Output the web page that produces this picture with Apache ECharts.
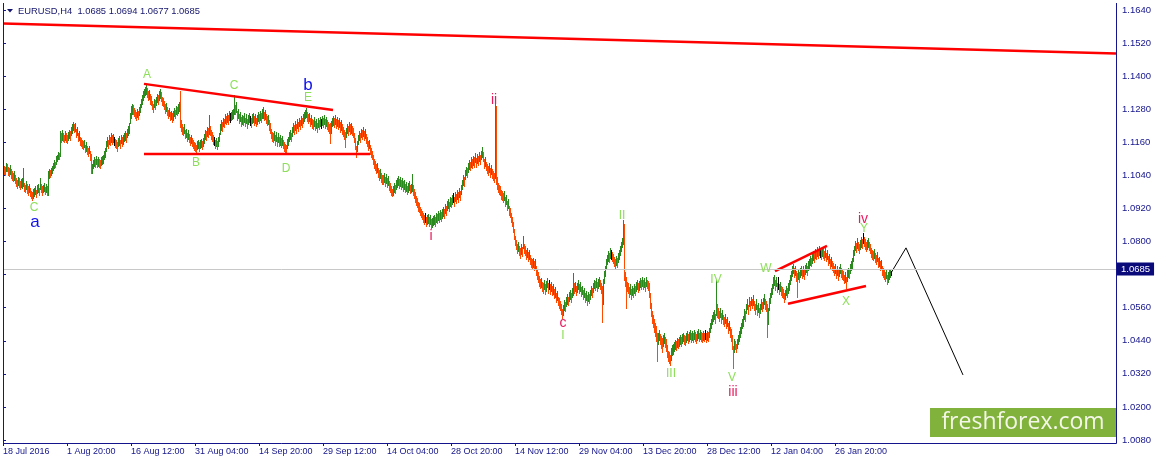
<!DOCTYPE html>
<html><head><meta charset="utf-8">
<script src="https://cdn.jsdelivr.net/npm/echarts@6/dist/echarts.min.js"></script>
<style>html,body{margin:0;padding:0;background:#fff}#c{width:1156px;height:464px}</style>
</head><body><div id="c"></div>
<script>
// ---- data (H4 bar highs / lows in pips above 1.0000) ----
const symbolTitle = 'EURUSD,H4';
const lastOHLC = [1.0685, 1.0694, 1.0677, 1.0685];
const xTickLabels = ['18 Jul 2016','1 Aug 20:00','16 Aug 12:00','31 Aug 04:00','14 Sep 20:00','29 Sep 12:00','14 Oct 04:00','28 Oct 20:00','14 Nov 12:00','29 Nov 04:00','13 Dec 20:00','28 Dec 12:00','12 Jan 04:00','26 Jan 20:00'];
const xTickBars = [0,64,128,192,256,320,384,448,512,576,640,704,768,832];
const totalSlots = 1113;

const barHighs = [
1082,1075,1070,1085,1080,1072,1066,1078,1062,1055,
1050,1055,1042,1030,1022,1035,1030,1020,1028,1030,
1065,1012,1005,1020,1008,1000,1008,995,985,978,
990,995,1000,988,1005,1010,995,1030,1008,1000,
1005,1012,998,1008,1002,1055,1062,1058,1068,1075,
1085,1095,1090,1110,1115,1125,1120,1200,1195,1205,
1195,1188,1200,1192,1185,1198,1205,1200,1215,1228,
1235,1225,1230,1210,1215,1195,1200,1180,1175,1168,
1165,1170,1152,1160,1145,1140,1148,1130,1118,1080,
1095,1105,1100,1110,1098,1105,1100,1095,1108,1112,
1115,1130,1140,1165,1178,1170,1188,1180,1192,1185,
1190,1180,1172,1168,1160,1175,1182,1170,1188,1178,
1185,1195,1202,1192,1210,1218,1230,1265,1290,1300,
1295,1285,1278,1270,1282,1275,1288,1300,1318,1330,
1345,1355,1362,1368,1358,1345,1350,1335,1328,1310,
1300,1318,1312,1325,1335,1330,1345,1355,1342,1325,
1320,1310,1298,1302,1288,1278,1285,1270,1275,1265,
1272,1285,1278,1292,1288,1298,1305,1345,1240,1225,
1215,1225,1205,1210,1195,1205,1190,1180,1188,1175,
1170,1162,1158,1150,1165,1170,1160,1168,1172,1165,
1175,1190,1205,1200,1215,1212,1258,1220,1205,1198,
1185,1180,1170,1175,1165,1178,1195,1225,1240,1235,
1250,1245,1262,1255,1268,1260,1275,1265,1270,1278,
1280,1332,1295,1305,1275,1280,1262,1270,1252,1260,
1255,1268,1250,1262,1245,1258,1265,1255,1248,1262,
1268,1255,1262,1250,1258,1270,1262,1275,1265,1280,
1288,1270,1278,1262,1255,1260,1240,1230,1210,1198,
1195,1200,1185,1198,1180,1192,1178,1185,1175,1182,
1170,1160,1155,1150,1172,1180,1198,1205,1195,1215,
1230,1222,1238,1228,1245,1235,1250,1242,1255,1248,
1262,1270,1278,1284,1270,1262,1268,1250,1258,1245,
1240,1252,1238,1245,1230,1248,1240,1252,1245,1255,
1248,1258,1245,1252,1240,1235,1228,1230,1238,1250,
1255,1248,1258,1245,1252,1240,1248,1232,1240,1225,
1215,1205,1198,1212,1228,1220,1235,1225,1230,1220,
1212,1195,1175,1148,1165,1188,1200,1195,1210,1205,
1215,1200,1208,1190,1180,1165,1170,1150,1140,1130,
1115,1100,1092,1080,1085,1068,1058,1062,1048,1042,
1040,1048,1035,1045,1030,1038,1020,1012,1000,992,
1002,1012,1005,1025,1030,1038,1028,1035,1022,1030,
1018,1025,1008,1015,1002,1012,1020,1005,1010,1045,
1005,992,978,965,958,945,940,925,918,910,
905,898,902,890,895,900,888,895,880,885,
892,898,888,905,900,910,902,915,908,918,
925,918,935,930,948,955,945,962,958,968,
975,962,980,972,988,978,995,985,1005,1022,
1040,1035,1060,1072,1068,1085,1095,1090,1105,1098,
1112,1105,1120,1102,1118,1110,1125,1115,1130,1143,
1125,1100,1108,1090,1082,1075,1085,1068,1078,1062,
1055,1048,1300,1290,1035,1012,1005,1000,988,982,
975,985,962,970,948,955,930,920,905,890,
870,845,820,805,790,800,785,775,790,780,
820,792,785,768,778,762,770,750,742,735,
740,728,735,712,700,688,675,665,668,655,
650,662,645,658,668,650,662,645,655,640,
645,628,635,615,620,600,595,585,572,555,
570,588,580,598,608,600,618,625,612,632,
686,648,655,638,650,660,645,652,635,640,
625,632,615,620,605,618,610,625,638,632,
650,662,658,668,652,665,672,660,648,640,
665,692,712,738,750,765,758,775,768,762,
755,745,738,748,740,758,770,785,798,812,
878,865,688,672,655,650,635,645,628,640,
632,645,640,655,662,650,658,668,660,672,
660,668,655,672,662,658,650,612,578,548,
535,518,505,495,470,468,478,465,458,450,
462,470,455,448,425,402,398,390,412,425,
428,435,442,438,450,445,455,462,452,465,
470,462,458,468,475,465,472,478,468,475,
468,478,472,465,475,482,470,478,472,468,
475,470,480,468,475,472,488,505,520,532,
545,552,538,661,575,558,548,560,540,552,
535,525,538,518,528,505,512,490,482,460,
420,445,440,430,448,462,475,490,505,520,
530,555,548,575,590,570,598,585,600,592,
605,585,572,590,568,578,560,575,590,582,
595,608,590,585,575,560,595,612,630,645,
670,678,660,672,650,672,645,655,640,635,
628,615,625,640,632,648,660,680,692,710,
718,705,712,692,685,700,690,705,712,700,
710,698,715,722,712,728,735,748,742,755,
765,758,772,768,780,772,785,778,770,782,
775,765,778,760,768,748,755,738,745,728,
722,710,718,700,712,695,708,718,705,698,
692,680,688,670,695,705,700,718,728,740,
768,785,802,795,812,800,792,805,815,808,
831,818,808,798,805,812,800,792,778,770,
765,772,758,752,762,740,745,728,732,712,
705,698,690,702,680,690,698,702,694];

const barLows = [
1052,1046,1042,1055,1055,1040,1036,1045,1030,1022,
1018,1025,1012,1000,995,1005,998,990,998,995,
1000,985,980,990,975,970,978,965,958,952,
958,965,972,962,975,980,968,990,980,970,
978,985,972,980,968,968,1030,1035,1042,1048,
1058,1065,1070,1082,1092,1098,1100,1110,1160,1170,
1165,1160,1170,1162,1158,1168,1175,1170,1185,1195,
1205,1198,1200,1180,1185,1165,1170,1150,1145,1138,
1135,1142,1125,1130,1118,1112,1120,1095,1048,1050,
1065,1075,1072,1080,1070,1075,1072,1068,1078,1082,
1085,1098,1108,1130,1145,1140,1155,1150,1160,1155,
1160,1150,1142,1138,1130,1145,1150,1140,1158,1148,
1155,1165,1170,1162,1180,1188,1195,1230,1250,1262,
1262,1255,1248,1240,1252,1245,1258,1270,1288,1298,
1315,1325,1332,1335,1325,1312,1318,1300,1295,1280,
1270,1288,1282,1295,1305,1300,1312,1322,1310,1295,
1290,1280,1268,1272,1258,1248,1255,1240,1245,1235,
1242,1255,1248,1262,1258,1268,1275,1215,1200,1190,
1185,1195,1175,1178,1165,1172,1160,1150,1158,1145,
1140,1132,1128,1122,1135,1140,1128,1138,1142,1135,
1145,1158,1172,1168,1182,1180,1190,1185,1172,1165,
1155,1150,1140,1145,1135,1148,1165,1190,1205,1202,
1218,1215,1230,1225,1235,1228,1242,1235,1240,1245,
1250,1262,1262,1270,1242,1248,1230,1238,1220,1228,
1222,1235,1218,1230,1212,1225,1232,1222,1215,1230,
1235,1222,1230,1218,1225,1238,1230,1242,1232,1248,
1250,1240,1245,1230,1222,1228,1205,1195,1175,1165,
1162,1168,1152,1165,1148,1160,1145,1152,1142,1150,
1140,1130,1125,1122,1138,1150,1165,1172,1165,1182,
1198,1190,1205,1195,1212,1202,1218,1210,1222,1215,
1230,1238,1248,1252,1238,1230,1236,1218,1225,1212,
1208,1220,1205,1212,1198,1215,1208,1220,1212,1222,
1215,1225,1212,1220,1208,1200,1195,1158,1195,1218,
1222,1215,1225,1212,1220,1208,1215,1198,1205,1190,
1182,1172,1143,1178,1195,1188,1200,1190,1195,1185,
1180,1160,1135,1107,1128,1155,1168,1162,1178,1172,
1182,1168,1175,1158,1148,1132,1138,1118,1108,1098,
1082,1068,1060,1048,1052,1035,1025,1030,1015,1010,
1008,1015,1002,1012,998,1005,988,980,970,965,
970,980,975,992,998,1005,995,1002,990,998,
985,992,978,985,972,980,988,975,980,985,
970,958,945,932,925,912,908,895,888,880,
872,865,870,858,862,868,855,862,850,852,
860,865,858,872,868,878,870,882,875,885,
892,885,902,898,915,922,912,930,925,935,
942,930,948,940,955,945,962,952,972,990,
1005,1002,1028,1040,1035,1052,1062,1058,1072,1065,
1078,1072,1088,1070,1085,1078,1092,1082,1098,1108,
1092,1068,1075,1058,1050,1042,1052,1035,1045,1030,
1022,1015,1030,1010,990,978,972,968,955,950,
942,952,930,938,915,922,898,888,872,858,
835,810,788,772,758,765,752,742,755,748,
775,760,752,735,745,728,738,718,708,702,
708,695,702,678,665,652,640,630,635,620,
615,628,610,622,635,615,628,610,620,605,
610,595,600,582,588,568,560,550,538,522,
535,552,548,565,575,568,585,592,580,598,
605,615,620,605,618,628,612,620,602,608,
592,598,582,588,570,585,578,592,605,600,
618,630,625,635,620,632,640,628,615,508,
575,648,675,702,718,730,725,742,735,728,
722,712,705,715,708,725,738,752,765,780,
790,660,640,560,620,612,598,610,592,605,
598,612,605,622,628,618,625,635,628,640,
628,635,622,640,630,625,600,560,530,505,
490,472,458,440,365,428,442,430,412,398,
422,432,418,402,380,365,360,352,372,388,
392,402,410,405,418,412,422,430,420,432,
438,430,425,435,442,432,440,445,435,442,
435,445,440,432,442,450,438,446,440,435,
442,438,448,435,442,440,455,472,488,500,
512,520,505,535,525,522,512,525,505,518,
502,492,505,485,495,470,478,455,440,410,
341,398,410,398,415,428,440,455,470,488,
495,520,512,540,555,538,565,550,568,560,
570,552,538,555,532,545,525,540,555,548,
560,575,555,548,455,500,550,578,598,610,
632,642,625,638,618,628,610,620,605,600,
595,582,592,605,598,612,625,645,660,675,
685,672,678,658,600,665,655,672,680,668,
675,665,682,690,680,695,702,715,710,722,
732,725,740,735,748,740,750,745,738,748,
742,732,745,728,735,715,722,705,712,695,
690,678,685,668,680,662,675,685,672,665,
660,648,655,630,658,672,668,685,695,705,
730,750,768,762,778,768,760,772,782,775,
795,785,772,765,772,780,768,758,745,738,
732,740,725,718,728,708,712,695,700,680,
672,665,658,668,645,655,665,672,677];

// g = up bar, r = down bar, k = unchanged
const barDirs = ('grrgrrrgrr rgrrrgrrgg grrgrrgrrr gggrggrgrr ggrgrggrgg ggrgggrgrg rrgrrggrgg grgrgrgrrr rgrgrrgrrg ggrgrgrrgg ' +
'gggggrgrgr gkrrrggrgr gggrgggggg rrrrgrgggg ggggrrgrrr rgrggrggrr rrrgrrgrgr ggrgrggrrr rgrgrgrrgr rrrrggrggr ' +
'gggrgrgrrr rkrgrggggr grgrgrgkgg ggrgrgrgrg rgrgrggkrg grgrggrgrg grgrrgrrrr rgrgrgrgrg rrrrggggrg grgrgrgrgr ' +
'ggggrrgrgr rgrgrgrgkg rgrgrrrrgg grgrgrgrgr rrrggrgrgr rrrrgggrgr grgrrrgrrr rrrrgrrgrr rgrgrgrrrr ggrgggrgrg ' +
'rgrgrggrgg rrrrrrrrrr rrkrggrgrg ggrgrgrgrg grgrggrgrg krgrgrgrgg grggrggrgr grgrgrgrgg rrgrrrgrgr rrgrrrrrrr ' +
'rgrgrgrrrr rrrrrgrrgr grrrgrgrrr grgrrrrrgr rgrggrkrgr grgrgrrrrr ggrggrggrg grgrggrgrg rgrgrgrggr ggrgrggrrr ' +
'ggggggrgkr rrrgrggggg grrrrrrgrg rgrggrggrg rgrgrrrrrr rrrrrggrrr ggrrrrrrgg gggrgrggrg grrggrggrg rgrrggrgrr ' +
'grkrgrgggg ggrgrrrgrg rrgrgrgrrr rgrrgggggg ggrggrgrgr grrgrgrggr ggrrrggggg ggrgrkrgrr rrggrggggg grgrrgrggr ' +
'grggrgggrg grgrgrgkrg rrgrgrgrgr rrgrgrggrr rrgrggrggg gggrgrrggr krrrggrrrr rgrrgrgrgr rrrgrgggk').replace(/ /g, '');

// trendlines drawn on the chart: [bar index, price]
const resistanceLong = [[0, 1.1591], [1113, 1.1482]];
const triangleTop = [[141, 1.1372], [330, 1.1277]];
const triangleBottom = [[141, 1.1118], [367, 1.1118]];
const wedgeTop = [[772, 1.0693], [824, 1.0784]];
const wedgeBottom = [[785, 1.0574], [863, 1.0639]];
const forecastPath = [[888, 1.0686], [903, 1.0777], [960, 1.0316]];

// Elliott wave marks
const waveText  = ['C','a','A','C','b','E','B','D','i','ii','c','I','II','III','IV','V','iii','W','X','Y','iv'];
const waveBar   = [31,32,144,231,305,305,193,283,428,491,560,560,619,668,713,729,730,763,843,861,860];
const wavePrice = [1.0922,1.0871,1.1404,1.1364,1.1368,1.1321,1.1085,1.1063,1.0820,1.1314,1.0505,1.0458,1.0893,1.0320,1.0661,1.0305,1.0255,1.0701,1.0581,1.0846,1.0882];
const waveDegree = ['minor','major','minor','minor','major','minor','minor','minor','inter','inter','inter','minor','minor','minor','minor','minor','inter','minor','minor','minor','inter'];

// ---- chart ----
const NAVY = '#14148c';
const UP = '#2a8a1e', DOWN = '#ff4a00', FLAT = '#000000';
const FONT = '"Liberation Sans", Arial, sans-serif';
const waveStyle = {
  minor: {fill: '#8ddf5a', font: '12px ' + FONT},
  major: {fill: '#1010ee', font: '17px ' + FONT},
  inter: {fill: '#e8195c', font: '14px ' + FONT}
};
const n = Math.min(barHighs.length, barLows.length, barDirs.length);
const barData = [];
for (let i = 0; i < n; i++) {
  const d = barDirs[i] === 'g' ? 1 : (barDirs[i] === 'r' ? -1 : 0);
  barData.push([i, 1 + barHighs[i] / 10000, 1 + barLows[i] / 10000, d]);
}
const waveData = waveBar.map((b, k) => [b, wavePrice[k]]);

function lineSeries(data, color, width, z) {
  return {type: 'line', data: data, symbol: 'none', silent: true, animation: false, z: z,
    lineStyle: {color: color, width: width}, clip: false};
}

const chart = echarts.init(document.getElementById('c'), null, {renderer: 'canvas'});
chart.setOption({
  animation: false,
  backgroundColor: '#ffffff',
  grid: {left: 3, right: 40, top: 10, bottom: 24},
  xAxis: {
    type: 'value', min: 0, max: totalSlots, offset: 3,
    axisLine: {show: false}, splitLine: {show: false},
    axisTick: {show: true, customValues: xTickBars, length: 3, lineStyle: {color: NAVY}},
    axisLabel: {customValues: xTickBars, formatter: v => { const k = xTickBars.indexOf(v); return k >= 0 ? xTickLabels[k] : ''; },
      align: 'left', color: NAVY, fontFamily: FONT, fontSize: 9, margin: 4}
  },
  yAxis: {
    type: 'value', position: 'right', min: 1.008, max: 1.164, interval: 0.012,
    axisLine: {show: false}, splitLine: {show: false},
    axisTick: {show: true, length: 3, lineStyle: {color: NAVY}},
    // the scale label hidden behind the current-price box is not printed
    axisLabel: {formatter: v => Math.abs(v - lastOHLC[3]) < 0.003 ? '' : v.toFixed(4), color: NAVY, fontFamily: FONT, fontSize: 9.5, margin: 6}
  },
  graphic: [
    {type: 'polyline', shape: {points: [[3.5, 3], [3.5, 443.5], [1116.5, 443.5], [1116.5, 3]]}, style: {stroke: NAVY, lineWidth: 1, fill: null}, z: 50, silent: true},
    {type: 'polygon', shape: {points: [[7, 9], [13, 9], [10, 12.5]]}, style: {fill: '#14146e'}, z: 50, silent: true},
    {type: 'text', x: 18, y: 11, style: {text: symbolTitle + '  ' + lastOHLC.map(v => v.toFixed(4)).join(' '), fill: '#14146e', font: '9.4px ' + FONT, verticalAlign: 'middle'}, z: 50, silent: true},
    {type: 'rect', shape: {x: 930, y: 408, width: 186, height: 29}, style: {fill: '#80b23c'}, z: 40, silent: true},
    {type: 'text', x: 1023, y: 422.5, style: {text: 'freshforex.com', fill: '#f4f7e8', font: '23px "Open Sans", "Noto Sans", sans-serif', align: 'center', verticalAlign: 'middle'}, z: 41, silent: true}
  ],
  series: [
    {type: 'line', data: [], silent: true, z: 1,
      markLine: {silent: true, symbol: 'none', animation: false,
        lineStyle: {color: '#c8c8c8', type: 'solid', width: 1},
        label: {show: true, position: 'end', distance: 1, formatter: lastOHLC[3].toFixed(4), color: '#ffffff', backgroundColor: '#0a0a7a', padding: [2, 4, 1, 4], fontSize: 9.5, fontFamily: FONT},
        data: [{yAxis: lastOHLC[3]}]}},
    {type: 'custom', z: 3, clip: false, silent: true, data: barData, encode: {x: 0, y: [1, 2]},
      renderItem: (params, api) => {
        const i = api.value(0);
        const t = api.coord([i, api.value(1)]);
        const b = api.coord([i, api.value(2)]);
        const d = api.value(3);
        const y0 = Math.round(t[1]), y1 = Math.round(b[1]);
        return {type: 'rect', shape: {x: Math.floor(t[0]), y: y0, width: 1, height: Math.max(1, y1 - y0 + 1)},
          style: {fill: d > 0 ? UP : (d < 0 ? DOWN : FLAT)}};
      }},
    lineSeries(resistanceLong, '#ff0000', 2.5, 4),
    lineSeries(triangleTop, '#ff0000', 2.5, 4),
    lineSeries(triangleBottom, '#ff0000', 2.5, 4),
    lineSeries(wedgeTop, '#ff0000', 2.5, 4),
    lineSeries(wedgeBottom, '#ff0000', 2.5, 4),
    lineSeries(forecastPath, '#000000', 1, 4),
    {type: 'custom', z: 6, clip: false, silent: true, data: waveData, encode: {x: 0, y: 1},
      renderItem: (params, api) => {
        const k = params.dataIndex;
        const p = api.coord([api.value(0), api.value(1)]);
        const st = waveStyle[waveDegree[k]];
        return {type: 'text', x: p[0], y: p[1], style: {text: waveText[k], fill: st.fill, font: st.font, align: 'center', verticalAlign: 'middle'}};
      }}
  ]
});
</script></body></html>
